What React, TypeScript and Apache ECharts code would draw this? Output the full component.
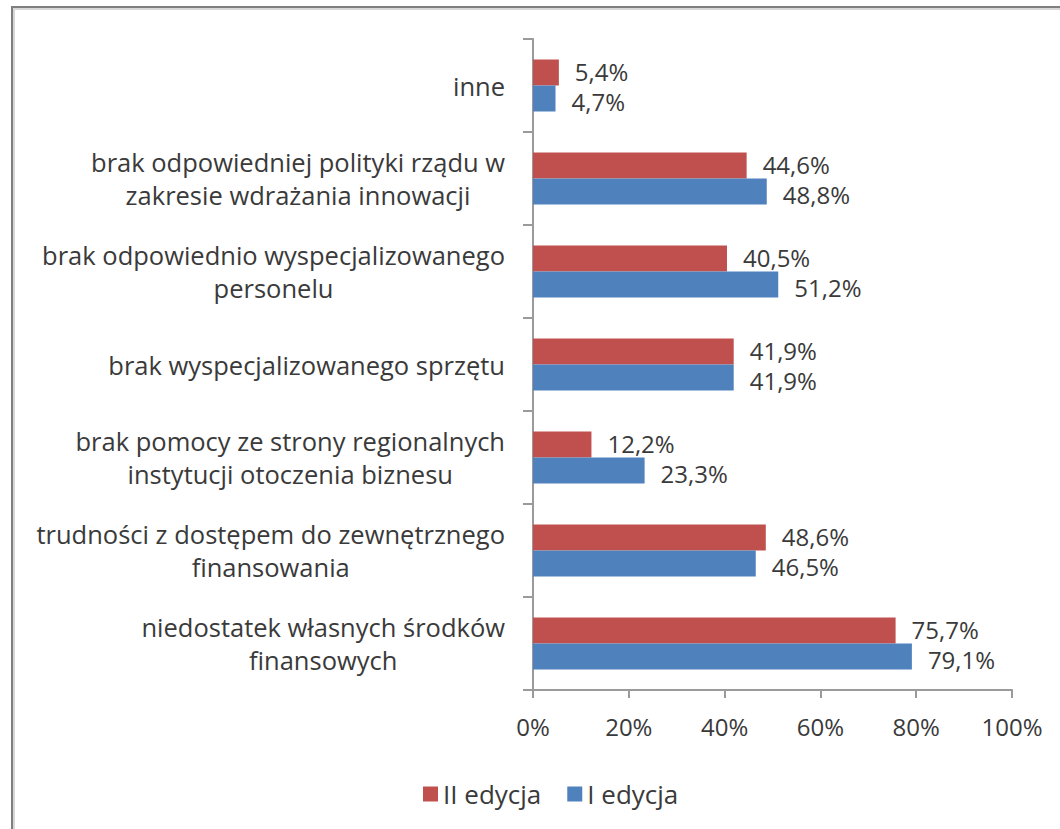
import React, { useEffect, useRef } from "react";
import * as echarts from "echarts";

const categories = [
  "inne",
  "brak odpowiedniej polityki rządu w\nzakresie wdrażania innowacji",
  "brak odpowiednio wyspecjalizowanego\npersonelu",
  "brak wyspecjalizowanego sprzętu",
  "brak pomocy ze strony regionalnych\ninstytucji otoczenia biznesu",
  "trudności z dostępem do zewnętrznego\nfinansowania",
  "niedostatek własnych środków\nfinansowych",
];
const seriesNames = ["II edycja", "I edycja"];
const edycjaII = [5.4, 44.6, 40.5, 41.9, 12.2, 48.6, 75.7];
const edycjaI = [4.7, 48.8, 51.2, 41.9, 23.3, 46.5, 79.1];
const xTicks = [0, 20, 40, 60, 80, 100];

const FONT = "'Open Sans', 'Noto Sans', sans-serif";
const TEXT = "#3a3a3a";
const AXIS = "#9a9a9a";

const fmt = (v: number) => v.toFixed(1).replace(".", ",") + "%";

export default function App() {
  const ref = useRef<HTMLDivElement>(null);
  useEffect(() => {
    document.body.style.margin = "0";
    const chart = echarts.init(ref.current!, undefined, { renderer: "svg" });
    const makeLabel = (dy: number) => ({
      show: true,
      position: "right",
      distance: 16,
      offset: [0, dy],
      fontFamily: FONT,
      fontSize: 24,
      lineHeight: 24,
      color: TEXT,
      formatter: (p: any) => fmt(p.value),
    });
    chart.setOption({
      animation: false,
      backgroundColor: "#ffffff",
      graphic: [
        {
          type: "rect",
          shape: { x: 14, y: 9, width: 1100, height: 900 },
          style: { fill: "none", stroke: "#d8d8d8", lineWidth: 2 },
          silent: true,
        },
        {
          type: "rect",
          shape: { x: 12, y: 7, width: 1100, height: 900 },
          style: { fill: "none", stroke: "#7f7f7f", lineWidth: 2 },
          silent: true,
        },
      ],
      legend: {
        data: seriesNames,
        left: 418,
        top: 776,
        itemWidth: 15,
        itemHeight: 15,
        itemGap: 26,
        icon: "rect",
        textStyle: { fontFamily: FONT, fontSize: 26, color: TEXT },
      },
      grid: { left: 533, right: 48, top: 39, bottom: 139, containLabel: false },
      xAxis: {
        type: "value",
        min: 0,
        max: 100,
        interval: 20,
        splitLine: { show: false },
        axisLine: { show: true, lineStyle: { color: AXIS, width: 2 } },
        axisTick: { show: true, length: 8, lineStyle: { color: AXIS, width: 2 } },
        axisLabel: {
          margin: 24,
          fontFamily: FONT,
          fontSize: 24,
          color: TEXT,
          formatter: (v: number) => (xTicks.includes(v) ? v + "%" : ""),
        },
      },
      yAxis: {
        type: "category",
        inverse: true,
        data: categories,
        axisLine: { show: true, lineStyle: { color: AXIS, width: 2 } },
        axisTick: { show: true, length: 10, interval: 0, lineStyle: { color: AXIS, width: 2 } },
        axisLabel: {
          margin: 28,
          interval: 0,
          align: "right",
          formatter: (v: string) =>
            v
              .split("\n")
              .map((l) => "{c|" + l + "}")
              .join("\n"),
          rich: {
            c: {
              align: "center",
              fontFamily: FONT,
              fontSize: 25.5,
              lineHeight: 33,
              color: TEXT,
            },
          },
        },
      },
      series: [
        {
          name: seriesNames[0],
          type: "bar",
          data: edycjaII,
          barWidth: 26,
          barGap: "0%",
          itemStyle: { color: "#C0504D" },
          label: makeLabel(-1),
        },
        {
          name: seriesNames[1],
          type: "bar",
          data: edycjaI,
          barWidth: 26,
          barGap: "0%",
          itemStyle: { color: "#4F81BD" },
          label: makeLabel(3),
        },
      ],
    });
    return () => chart.dispose();
  }, []);
  return <div ref={ref} style={{ width: 1060, height: 829 }} />;
}
